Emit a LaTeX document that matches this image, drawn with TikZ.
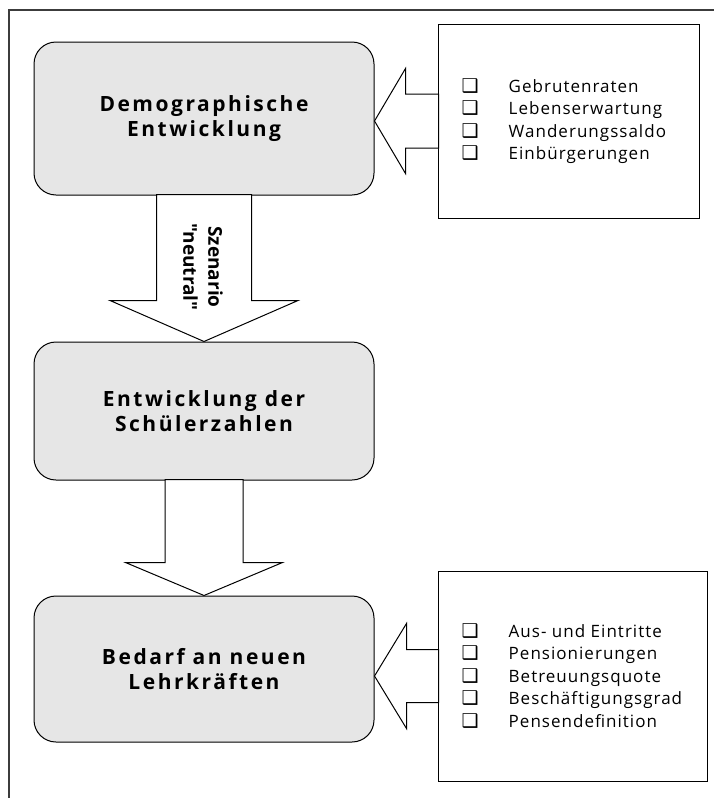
\documentclass[tikz,border=0pt]{standalone}
\usepackage{fontspec}
\setmainfont{Open Sans}
\newfontfamily\titelfont[LetterSpace=12]{Open Sans}
\newfontfamily\listenfont[LetterSpace=6]{Open Sans}
\newfontfamily\pfeilfont{Open Sans}
\newfontfamily\symbolfont{DejaVu Sans}
\usetikzlibrary{calc}

\definecolor{boxgrau}{RGB}{230,230,230}
\definecolor{rahmen}{RGB}{60,60,60}

\tikzset{
  block/.style={draw, line width=1pt, fill=boxgrau, rounded corners=22pt, minimum width=340pt,
    align=center, font=\titelfont\bfseries\fontsize{21}{25}\selectfont},
  faktoren/.style={draw, line width=1pt, fill=white},
  liste/.style={anchor=west, align=left, inner sep=0pt, font=\listenfont\fontsize{17}{22.5}\selectfont},
  pfeil/.style={draw, line width=1pt, fill=white, line join=miter},
}
\newcommand{\punkt}{\makebox[47pt][l]{\symbolfont\fontsize{19}{19}\selectfont ❑}}

\begin{document}
\begin{tikzpicture}[x=1pt,y=-1pt]
	\useasboundingbox (0,0) rectangle (713,798);

	% Rahmen
	\draw[rahmen, line width=1.3pt] (9,800) -- (9,10) -- (715,10);

	% Hauptboxen
	\node[block, minimum height=153pt] (demo) at (204,118.5) {Demographische\\Entwicklung};
	\node[block, minimum height=138pt] (schueler) at (204,411) {Entwicklung der\\Schülerzahlen};
	\node[block, minimum height=146pt] (bedarf) at (204,669) {Bedarf an neuen\\Lehrkräften};

	% Einflussfaktoren
	\node[faktoren, minimum width=261pt, minimum height=194pt] (faktorenA) at (568.5,121) {};
	\node[faktoren, minimum width=269pt, minimum height=210pt] (faktorenB) at (572.5,676) {};

	\node[liste] (listeA) at ($(faktorenA.west)+(24,0)$) {\punkt Gebrutenraten\\ \punkt Lebenserwartung\\
		\punkt Wanderungssaldo\\ \punkt Einbürgerungen};
	\node[liste] (listeB) at ($(faktorenB.west)+(24,0)$) {\punkt Aus- und Eintritte\\ \punkt Pensionierungen\\
		\punkt Betreuungsquote\\ \punkt Beschäftigungsgrad\\ \punkt Pensendefinition};

	% Pfeile nach links
	\draw[pfeil] (faktorenA.west -| demo.east) -- ++(31,-52.5) -- ++(0,25.5) -- ++(33,0)
		-- ++(0,54) -- ++(-33,0) -- ++(0,25.5) -- cycle;
	\draw[pfeil] (faktorenB.west -| bedarf.east) -- ++(32,-52.5) -- ++(0,26) -- ++(32,0)
		-- ++(0,53) -- ++(-32,0) -- ++(0,26) -- cycle;

	% Pfeile nach unten
	\draw[pfeil] (schueler.north) -- ++(-94,-41) -- ++(46.5,0) -- ++(0,-106) -- ++(95,0)
		-- ++(0,106) -- ++(46.5,0) -- cycle;
	\draw[pfeil] (bedarf.north) -- ++(-78.5,-33) -- ++(39.5,0) -- ++(0,-83) -- ++(78,0)
		-- ++(0,83) -- ++(39.5,0) -- cycle;

	\node[rotate=-90, align=center, font=\pfeilfont\bfseries\fontsize{19}{25}\selectfont] (szenario) at (203,267)
		{Szenario\\"neutral"};

\end{tikzpicture}
\end{document}
